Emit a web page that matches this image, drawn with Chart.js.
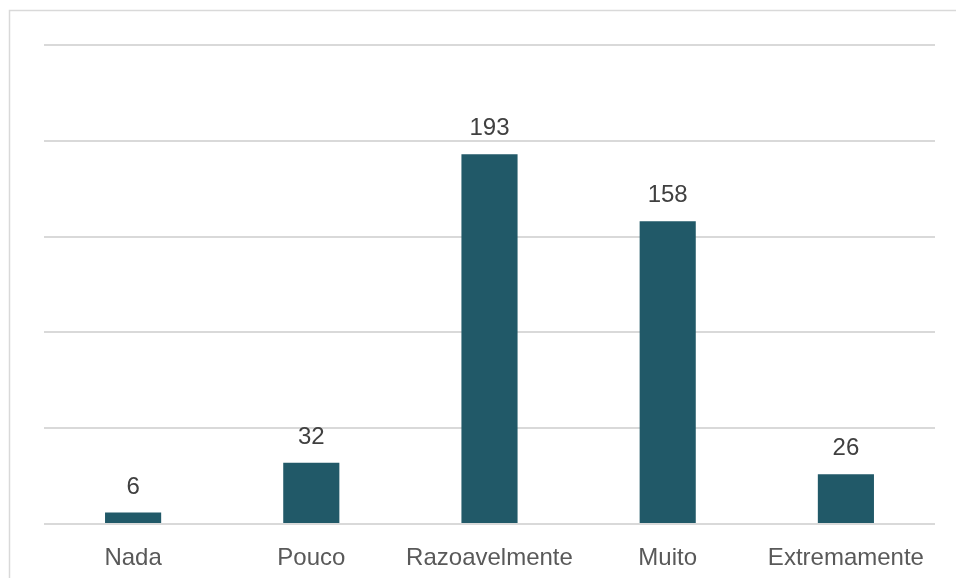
<!DOCTYPE html>
<html>
<head>
<meta charset="utf-8">
<script src="https://cdn.jsdelivr.net/npm/chart.js@4/dist/chart.umd.min.js"></script>
<style>
  html, body { margin: 0; padding: 0; background: #ffffff; }
  #wrap { width: 956px; height: 578px; position: relative; }
</style>
</head>
<body>
<div id="wrap"><canvas id="c" width="956" height="578"></canvas></div>
<script>
const categories = ['Nada', 'Pouco', 'Razoavelmente', 'Muito', 'Extremamente'];
const counts = [6, 32, 193, 158, 26];
const yTicks = [0, 50, 100, 150, 200, 250];

// Light frame along the top and left edges of the chart area
const framePlugin = {
  id: 'frame',
  beforeDraw(chart) {
    const ctx = chart.ctx;
    ctx.save();
    ctx.strokeStyle = '#d9d9d9';
    ctx.lineWidth = 1.5;
    ctx.beginPath();
    ctx.moveTo(9.5, chart.height);
    ctx.lineTo(9.5, 10.5);
    ctx.lineTo(chart.width, 10.5);
    ctx.stroke();
    ctx.restore();
  }
};

// Value labels above each bar
const valueLabels = {
  id: 'valueLabels',
  afterDatasetsDraw(chart) {
    const ctx = chart.ctx;
    const meta = chart.getDatasetMeta(0);
    ctx.save();
    ctx.font = '24px "Liberation Sans", Arial, sans-serif';
    ctx.fillStyle = '#404040';
    ctx.textAlign = 'center';
    ctx.textBaseline = 'alphabetic';
    meta.data.forEach((bar, i) => {
      ctx.fillText(String(counts[i]), bar.x, bar.y - 19);
    });
    ctx.restore();
  }
};

new Chart(document.getElementById('c'), {
  type: 'bar',
  data: {
    labels: categories,
    datasets: [{
      data: counts,
      backgroundColor: '#215968',
      borderWidth: 0,
      barPercentage: 0.315,
      categoryPercentage: 1.0
    }]
  },
  options: {
    responsive: false,
    animation: false,
    devicePixelRatio: 1,
    layout: { padding: { left: 44, right: 21, top: 45, bottom: 0 } },
    plugins: {
      legend: { display: false },
      tooltip: { enabled: false }
    },
    scales: {
      x: {
        grid: { display: false },
        border: { display: false },
        ticks: {
          color: '#595959',
          font: { family: '"Liberation Sans", Arial, sans-serif', size: 24 },
          padding: 12,
          maxRotation: 0,
          autoSkip: false
        },
        afterFit(scale) { scale.height = 54; }
      },
      y: {
        min: 0,
        max: 250,
        afterBuildTicks(scale) { scale.ticks = yTicks.map(v => ({ value: v })); },
        grid: { color: '#d9d9d9', lineWidth: 2, drawTicks: false },
        border: { display: false },
        ticks: { display: false },
        afterFit(scale) { scale.width = 0; }
      }
    }
  },
  plugins: [framePlugin, valueLabels]
});
</script>
</body>
</html>
